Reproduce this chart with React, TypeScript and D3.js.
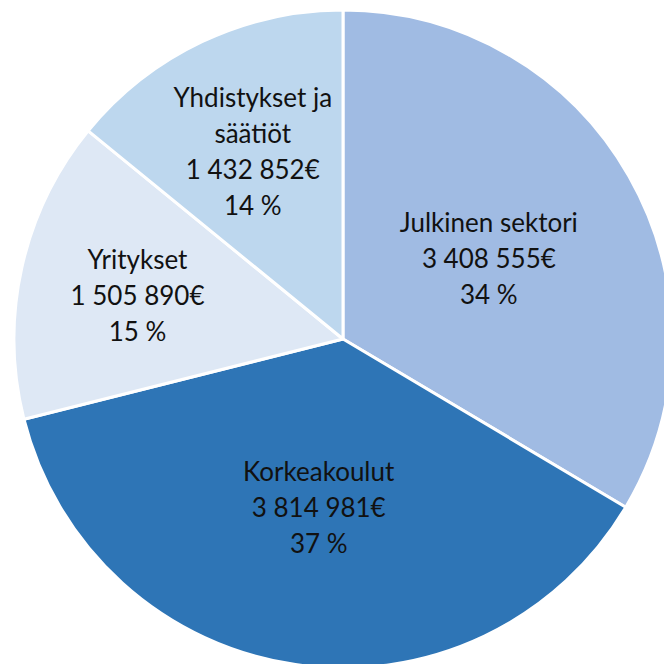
import React, { useEffect, useRef } from "react";
import * as d3 from "d3";

const categories = ["Julkinen sektori", "Korkeakoulut", "Yritykset", "Yhdistykset ja säätiöt"];
const labelLines = [["Julkinen sektori"], ["Korkeakoulut"], ["Yritykset"], ["Yhdistykset ja", "säätiöt"]];
const amounts = [3408555, 3814981, 1505890, 1432852];
const percents = [34, 37, 15, 14];
const colors = ["#A0BBE3", "#2E75B6", "#DEE8F5", "#BDD7EE"];

const width = 664;
const height = 664;

const PieChart = () => {
  const ref: any = useRef(null);

  useEffect(() => {
    const root = d3.select(ref.current);
    root.selectAll("*").remove();

    const svg = root
      .append("svg")
      .attr("width", width)
      .attr("height", height)
      .style("display", "block");

    const cx = 343;
    const cy = 339;
    const radius = 329;

    const g = svg.append("g").attr("transform", `translate(${cx},${cy})`);

    const data = categories.map((c, i) => ({
      name: c,
      lines: labelLines[i],
      amount: amounts[i],
      pct: percents[i],
      color: colors[i],
    }));

    const pie = d3
      .pie<any>()
      .value((d: any) => d.amount)
      .sort(null);

    const arcs = pie(data);
    const arc = d3.arc<any>().innerRadius(0).outerRadius(radius);

    g.selectAll("path")
      .data(arcs)
      .join("path")
      .attr("d", arc)
      .attr("fill", (d: any) => d.data.color)
      .attr("stroke", "#fff")
      .attr("stroke-width", 3)
      .attr("stroke-linejoin", "round");

    const fmt = (n: number) => d3.format(",")(n).replace(/,/g, " ") + "€";
    const total = d3.sum(amounts);
    const lineH = 36;

    arcs.forEach((a: any) => {
      const mid = (a.startAngle + a.endAngle) / 2;
      // small slices get labels pushed further out (like Excel best fit)
      const share = a.data.amount / total;
      const r = share > 0.3 ? radius * 0.51 : radius * 0.64;
      const x = Math.sin(mid) * r;
      const y = -Math.cos(mid) * r;
      const lines = [...a.data.lines, fmt(a.data.amount), `${a.data.pct} %`];
      const text = g
        .append("text")
        .attr("text-anchor", "middle")
        .attr("font-family", "Lato, 'Open Sans', sans-serif")
        .attr("font-size", 26)
        .attr("fill", "#111");
      const y0 = y - ((lines.length - 1) * lineH) / 2 + 12;
      lines.forEach((l, i) => {
        text
          .append("tspan")
          .attr("x", x)
          .attr("y", y0 + i * lineH)
          .text(l);
      });
    });
  }, []);

  return (
    <div
      ref={ref}
      style={{ position: "fixed", left: 0, top: 0, width, height, background: "#fff" }}
    ></div>
  );
};

export default function App() {
  return <PieChart />;
}
